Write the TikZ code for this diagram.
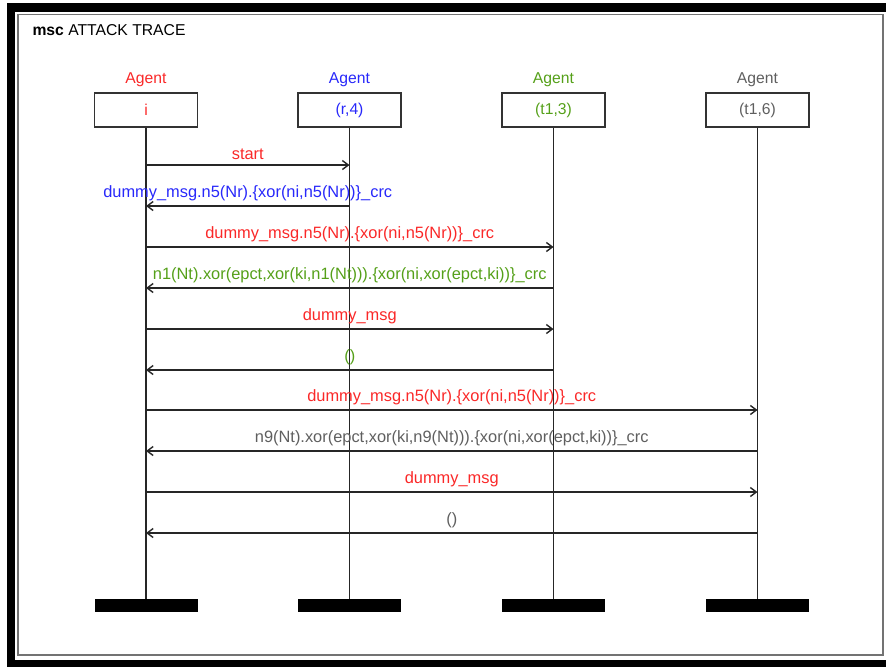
\documentclass[tikz,border=0pt]{standalone}
\usepackage{fontspec}
\setmainfont{Liberation Sans}
\usepackage{tikz}
\usetikzlibrary{calc, positioning, arrows.meta}
\definecolor{agentI}{RGB}{250, 40, 40}
\definecolor{agentR}{RGB}{40, 40, 250}
\definecolor{agentT}{RGB}{85, 160, 25}
\definecolor{agentS}{RGB}{95, 95, 95}

\begin{document}
\begin{tikzpicture}[x=1pt, y=-1pt, >={Straight Barb[length=6pt, width=9pt]},
    font=\fontsize{15.7}{18}\selectfont,
    lifebox/.style={draw=black!80, line width=1.6pt, minimum width=103pt, minimum height=34pt, inner sep=0pt},
    lifeend/.style={fill=black, minimum width=103pt, minimum height=13pt, inner sep=0pt},
    msgtext/.style={above=1pt, font=\fontsize{16.4}{18}\selectfont},
    msg/.style={->, line width=1.4pt, black!85}]
  \useasboundingbox (0,0) rectangle (886,667);
  % frame
  \fill (7,3) rectangle (886,12);
  \fill (7,3) rectangle (15,667);
  \fill (7,660) rectangle (886,667);
  \draw[black!55, line width=1.8pt] (18,14.5) rectangle (883,655);
  \node[anchor=west] (title) at (29,30) {\textbf{msc} ATTACK TRACE};

  % agents
  \node[lifebox, text=agentI] (ai) at (146,110) {i};
  \node[lifebox, text=agentR] (ar) at (349.5,110) {(r,4)};
  \node[lifebox, text=agentT] (at3) at (553.5,110) {(t1,3)};
  \node[lifebox, text=agentS] (at6) at (757.5,110) {(t1,6)};
  \node[agentI] (ni) at (146,80) {Agent};
  \node[agentR] (nr) at (349.5,80) {Agent};
  \node[agentT] (nt3) at (553.5,80) {Agent};
  \node[agentS] (nt6) at (757.5,80) {Agent};

  \node[lifeend] (ei) at (146,605.5) {};
  \node[lifeend] (er) at (349.5,605.5) {};
  \node[lifeend] (et3) at (553.5,605.5) {};
  \node[lifeend] (et6) at (757.5,605.5) {};

  \foreach \a/\b in {ai/ei, ar/er, at3/et3, at6/et6}
    \draw[black!85, line width=1.4pt] (\a.south) -- (\b.north);

  % messages
  \draw[msg] (ai |- 0,165) -- node[msgtext, agentI] (m1) {start} (ar |- 0,165);
  \draw[msg] (ar |- 0,206) -- node[msgtext, agentR] (m2) {dummy\_msg.n5(Nr).\{xor(ni,n5(Nr))\}\_crc} (ai |- 0,206);
  \draw[msg] (ai |- 0,247) -- node[msgtext, agentI] (m3) {dummy\_msg.n5(Nr).\{xor(ni,n5(Nr))\}\_crc} (at3 |- 0,247);
  \draw[msg] (at3 |- 0,288) -- node[msgtext, agentT] (m4) {n1(Nt).xor(epct,xor(ki,n1(Nt))).\{xor(ni,xor(epct,ki))\}\_crc} (ai |- 0,288);
  \draw[msg] (ai |- 0,329) -- node[msgtext, agentI] (m5) {dummy\_msg} (at3 |- 0,329);
  \draw[msg] (at3 |- 0,370) -- node[msgtext, agentT] (m6) {()} (ai |- 0,370);
  \draw[msg] (ai |- 0,410) -- node[msgtext, agentI] (m7) {dummy\_msg.n5(Nr).\{xor(ni,n5(Nr))\}\_crc} (at6 |- 0,410);
  \draw[msg] (at6 |- 0,451) -- node[msgtext, agentS] (m8) {n9(Nt).xor(epct,xor(ki,n9(Nt))).\{xor(ni,xor(epct,ki))\}\_crc} (ai |- 0,451);
  \draw[msg] (ai |- 0,492) -- node[msgtext, agentI] (m9) {dummy\_msg} (at6 |- 0,492);
  \draw[msg] (at6 |- 0,533) -- node[msgtext, agentS] (m10) {()} (ai |- 0,533);
\end{tikzpicture}
\end{document}
